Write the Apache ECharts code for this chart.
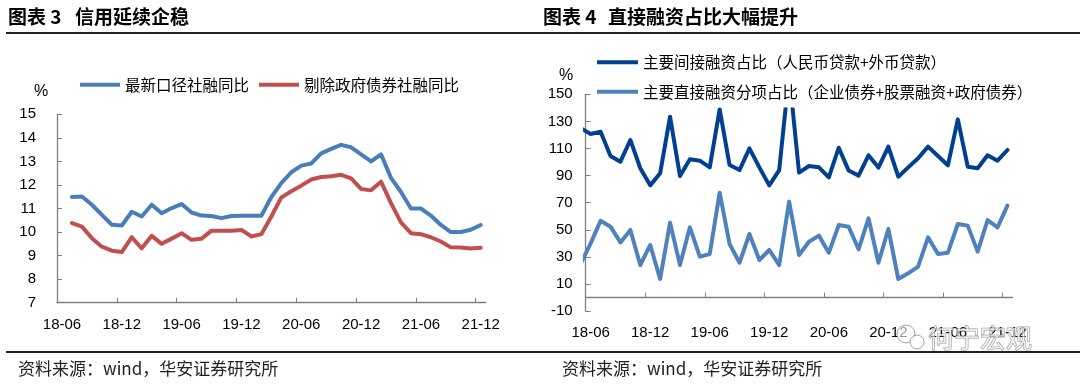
<!DOCTYPE html>
<html><head><meta charset="utf-8">
<script src="https://cdn.jsdelivr.net/npm/echarts@6/dist/echarts.min.js"></script>
<style>html,body{margin:0;padding:0;background:#fff}#c{width:1080px;height:387px}</style>
</head><body><div id="c"></div>
<script>
// ---------- data ----------
const months = ['18-06','18-07','18-08','18-09','18-10','18-11','18-12',
  '19-01','19-02','19-03','19-04','19-05','19-06','19-07','19-08','19-09','19-10','19-11','19-12',
  '20-01','20-02','20-03','20-04','20-05','20-06','20-07','20-08','20-09','20-10','20-11','20-12',
  '21-01','21-02','21-03','21-04','21-05','21-06','21-07','21-08','21-09','21-10','21-11','21-12'];
const xTickLabels = ['18-06','18-12','19-06','19-12','20-06','20-12','21-06','21-12'];

// Chart 3 (%), months 18-06 .. 21-12
const tsfNew = [null,
  11.49,11.51,11.16,10.73,10.31,10.28,10.86,10.66,11.16,10.80,11.02,11.19,
  10.83,10.70,10.68,10.59,10.68,10.69,10.69,10.69,11.49,12.08,12.54,12.82,
  12.91,13.34,13.53,13.70,13.60,13.30,13.00,13.30,12.30,11.70,11.00,11.00,
  10.70,10.30,10.00,10.00,10.10,10.30];
const tsfExGov = [null,
  10.38,10.23,9.74,9.38,9.21,9.15,9.78,9.31,9.84,9.50,9.72,9.95,
  9.67,9.72,10.06,10.06,10.06,10.09,9.81,9.91,10.66,11.47,11.73,11.97,
  12.23,12.34,12.37,12.43,12.28,11.83,11.77,12.14,11.23,10.41,9.95,9.91,
  9.78,9.60,9.35,9.34,9.30,9.33];

// Chart 4 (%), months 18-05 .. 21-12 (18-05 lies just outside the axis)
const rightMonths = ['18-05'].concat(months);
const indirectShare = [125,
  120.7,122.4,104.5,100.3,116.3,95.4,82.8,91.7,133.5,89.7,102.0,101.0,
  96.1,138.9,97.8,94.1,110.1,96.1,82.8,94.1,165.0,92.2,97.1,96.1,
  88.7,110.6,93.7,90.0,105.0,95.9,111.4,89.2,96.1,102.8,111.4,104.5,
  97.6,131.5,96.6,95.4,105.0,101.0,108.9];
const directShare = [25,
  40.0,56.7,52.3,40.7,49.9,24.0,38.8,13.7,55.3,24.0,51.8,30.2,
  32.1,77.4,39.5,25.7,46.9,27.7,35.1,24.0,70.8,31.4,41.2,45.7,
  33.1,53.5,52.3,35.6,58.5,25.7,50.6,13.7,17.9,22.8,44.4,32.1,
  33.1,54.3,53.1,33.9,57.2,51.8,67.8];

const leftNames = ['最新口径社融同比','剔除政府债券社融同比'];
const rightNames = ['主要间接融资占比（人民币贷款+外币贷款）','主要直接融资分项占比（企业债券+股票融资+政府债券）'];

// ---------- build ----------
const labelIdx = xTickLabels.map(l => months.indexOf(l));
const tickIdx = labelIdx.slice(1).map(i => i - 0.5);
const pairs = (cats, vals) => cats.map((m, i) => [months.indexOf(m) === -1 ? -1 : months.indexOf(m), vals[i]]).filter(p => p[1] != null);

const CJK = '"Noto Sans CJK SC", sans-serif';
const LAT = '"Liberation Sans", Arial, sans-serif';
const axisGrey = '#808080';

function xAxisCfg(gridIndex, margin) {
  return {
    type: 'value', gridIndex, min: -0.5, max: 42.5,
    splitLine: { show: false },
    axisLine: { show: true, onZero: true, lineStyle: { color: axisGrey, width: 1.3 } },
    axisTick: { show: true, inside: true, length: 5, customValues: tickIdx, lineStyle: { color: axisGrey } },
    axisLabel: { customValues: labelIdx, formatter: v => months[Math.round(v)] || '',
      margin, fontSize: 15, color: '#000', fontFamily: LAT }
  };
}
function yAxisCfg(gridIndex, min, max, interval, margin) {
  return {
    type: 'value', gridIndex, min, max, interval,
    splitLine: { show: false },
    axisLine: { show: true, onZero: false, lineStyle: { color: axisGrey, width: 1.3 } },
    axisTick: { show: true, inside: true, length: 5, lineStyle: { color: axisGrey } },
    axisLabel: { margin, fontSize: 15, color: '#000', fontFamily: LAT }
  };
}
function lineSeries(name, xi, data, color, z) {
  return { name, type: 'line', xAxisIndex: xi, yAxisIndex: xi, data, symbol: 'none', clip: true, z,
    lineStyle: { width: 4, color, join: 'round', cap: 'round' }, itemStyle: { color } };
}

const option = {
  animation: false,
  backgroundColor: '#fff',
  grid: [
    { left: 57, top: 114.3, width: 428.7, height: 188.4 },
    { left: 585.7, top: 94.3, width: 426.7, height: 216.8 }
  ],
  xAxis: [ xAxisCfg(0, 15), xAxisCfg(1, 14) ],
  yAxis: [ yAxisCfg(0, 7, 15, 1, 21), yAxisCfg(1, -10, 150, 20, 13) ],
  legend: [
    { data: leftNames, left: 75, top: 72, itemWidth: 40, itemHeight: 4, itemGap: 10, icon: 'rect',
      textStyle: { fontSize: 15.5, color: '#000', fontFamily: CJK } },
    { data: rightNames, orient: 'vertical', left: 592, top: 49.5, itemWidth: 41, itemHeight: 4, itemGap: 14,
      icon: 'rect', backgroundColor: '#fff', padding: [5, 5, 8, 5],
      textStyle: { fontSize: 15.5, color: '#000', fontFamily: CJK } }
  ],
  series: [
    lineSeries(leftNames[0], 0, pairs(months, tsfNew), '#4a7ebb', 3),
    lineSeries(leftNames[1], 0, pairs(months, tsfExGov), '#c0504d', 2),
    lineSeries(rightNames[0], 1, pairs(rightMonths, indirectShare), '#003f91', 3),
    lineSeries(rightNames[1], 1, pairs(rightMonths, directShare), '#4f81bd', 2)
  ],
  graphic: [
    { type: 'text', x: 8, y: 17, style: { text: '图表 3', font: 'bold 19px ' + CJK, fill: '#000', textVerticalAlign: 'middle' } },
    { type: 'text', x: 75, y: 17, style: { text: '信用延续企稳', font: 'bold 19px ' + CJK, fill: '#000', textVerticalAlign: 'middle' } },
    { type: 'text', x: 543, y: 17, style: { text: '图表 4', font: 'bold 19px ' + CJK, fill: '#000', textVerticalAlign: 'middle' } },
    { type: 'text', x: 608, y: 17, style: { text: '直接融资占比大幅提升', font: 'bold 19px ' + CJK, fill: '#000', textVerticalAlign: 'middle' } },
    { type: 'line', shape: { x1: 6, y1: 33, x2: 1080, y2: 33 }, style: { stroke: '#222', lineWidth: 2 } },
    { type: 'line', shape: { x1: 6, y1: 352, x2: 1080, y2: 352 }, style: { stroke: '#222', lineWidth: 2 } },
    { type: 'text', x: 41, y: 92, style: { text: '%', font: '16px ' + LAT, fill: '#000', textAlign: 'center', textVerticalAlign: 'middle' } },
    { type: 'text', x: 566, y: 76, style: { text: '%', font: '16px ' + LAT, fill: '#000', textAlign: 'center', textVerticalAlign: 'middle' } },
    { type: 'text', x: 18, y: 369, style: { text: '资料来源：wind，华安证券研究所', font: '17px ' + CJK, fill: '#222', textVerticalAlign: 'middle' } },
    { type: 'text', x: 562, y: 369, style: { text: '资料来源：wind，华安证券研究所', font: '17px ' + CJK, fill: '#222', textVerticalAlign: 'middle' } },
    { type: 'circle', shape: { cx: 906, cy: 334, r: 9 }, style: { fill: 'rgba(255,255,255,0.6)', stroke: 'rgba(140,140,140,0.8)', lineWidth: 1 }, z: 50 },
    { type: 'circle', shape: { cx: 917, cy: 342, r: 7 }, style: { fill: 'rgba(255,255,255,0.6)', stroke: 'rgba(140,140,140,0.8)', lineWidth: 1 }, z: 50 },
    { type: 'text', x: 928, y: 338, z: 50, style: { text: '何宁宏观', font: '26px ' + CJK, fill: 'rgba(255,255,255,0.6)', stroke: 'rgba(130,130,130,0.8)', lineWidth: 1, textVerticalAlign: 'middle' } }
  ]
};
const chart = echarts.init(document.getElementById('c'), null, { renderer: 'canvas' });
chart.setOption(option);
</script>
</body></html>
